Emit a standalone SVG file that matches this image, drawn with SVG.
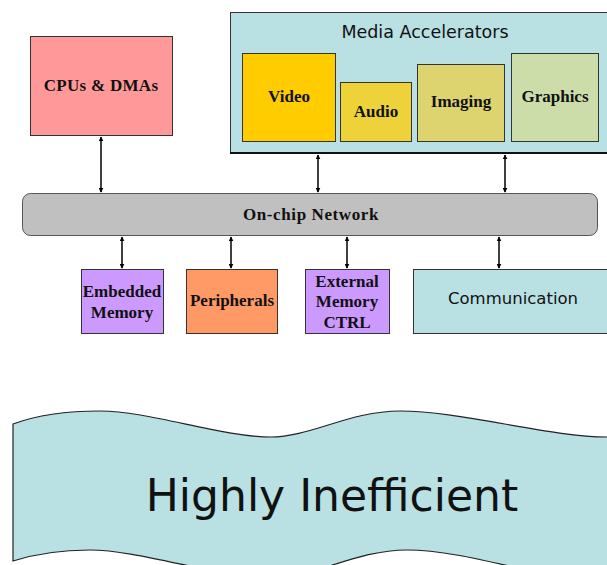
<svg xmlns="http://www.w3.org/2000/svg" width="607" height="565" viewBox="0 0 607 565">
  <style>
    .box { stroke: #333; stroke-width: 1; }
    .lbl { font-family: "Liberation Serif", "Times New Roman", serif; font-weight: bold; font-size: 17px; fill: #111; text-anchor: middle; }
    .sans { font-family: "DejaVu Sans", Verdana, sans-serif; fill: #111; text-anchor: middle; }
    .link { stroke: #000; stroke-width: 1.5; fill: none; marker-start: url(#head); marker-end: url(#head); }
  </style>
  <defs>
    <marker id="head" viewBox="0 0 8 8" refX="7" refY="4" markerWidth="5" markerHeight="5" orient="auto-start-reverse" markerUnits="userSpaceOnUse">
      <path d="M0,0 L8,4 L0,8 Z" fill="#000"/>
    </marker>
  </defs>
  <rect width="607" height="565" fill="#fff"/>

  <g id="cpus">
    <rect class="box" x="30.5" y="36.5" width="142" height="99" fill="#FF9999"/>
    <text class="lbl" x="101" y="91" letter-spacing="0.3">CPUs &amp; DMAs</text>
  </g>

  <g id="media">
    <rect class="box" x="230.5" y="12.5" width="390" height="140" fill="#B9E0E3"/>
    <line x1="230" y1="153" x2="607" y2="153" stroke="#111" stroke-width="2"/>
    <text class="sans" x="425" y="38" font-size="17.5">Media Accelerators</text>
  </g>
  <g id="video">
    <rect class="box" x="242.5" y="53.5" width="93" height="88" fill="#FFCC00"/>
    <text class="lbl" x="289" y="102">Video</text>
  </g>
  <g id="audio">
    <rect class="box" x="340.5" y="82.5" width="71" height="59" fill="#EDD23A"/>
    <text class="lbl" x="376" y="117">Audio</text>
  </g>
  <g id="imaging">
    <rect class="box" x="417.5" y="64.5" width="87" height="77" fill="#DDD470"/>
    <text class="lbl" x="461" y="107">Imaging</text>
  </g>
  <g id="graphics">
    <rect class="box" x="511.5" y="53.5" width="87" height="88" fill="#CCDDAA"/>
    <text class="lbl" x="555" y="102">Graphics</text>
  </g>

  <g id="network">
    <rect x="22.5" y="193.5" width="575" height="42" rx="8" ry="8" fill="#C0C0C0" stroke="#555" stroke-width="1"/>
    <text class="lbl" x="311" y="220" font-size="18" letter-spacing="0.6">On-chip Network</text>
  </g>

  <g id="embedded-memory">
    <rect class="box" x="81.5" y="269.5" width="82" height="64" fill="#CC99FF"/>
    <text class="lbl" x="122" y="297">Embedded</text>
    <text class="lbl" x="122" y="318">Memory</text>
  </g>
  <g id="peripherals">
    <rect class="box" x="186.5" y="269.5" width="91" height="64" fill="#FF9966"/>
    <text class="lbl" x="232" y="306">Peripherals</text>
  </g>
  <g id="external-memory">
    <rect class="box" x="305.5" y="269.5" width="84" height="64" fill="#CC99FF"/>
    <text class="lbl" x="347" y="287">External</text>
    <text class="lbl" x="347" y="307">Memory</text>
    <text class="lbl" x="347" y="328">CTRL</text>
  </g>
  <g id="communication">
    <rect class="box" x="413.5" y="269.5" width="210" height="64" fill="#B9E0E3"/>
    <text class="sans" x="513" y="304" font-size="16.5">Communication</text>
  </g>

  <g id="connectors">
    <line class="link" x1="101" y1="137" x2="101" y2="192"/>
    <line class="link" x1="318" y1="155" x2="318" y2="192"/>
    <line class="link" x1="505" y1="155" x2="505" y2="192"/>
    <line class="link" x1="122" y1="237" x2="122" y2="268"/>
    <line class="link" x1="231" y1="237" x2="231" y2="268"/>
    <line class="link" x1="347" y1="237" x2="347" y2="268"/>
    <line class="link" x1="499" y1="237" x2="499" y2="268"/>
  </g>

  <!-- wavy banner, runs off the right and bottom edges -->
  <g id="banner">
    <path d="M13,424 C40,414 70,411 100,411 C150,411 220,437 271,437 C310,437 350,411 400,411 C460,411 550,437 607,437 L640,437 L640,582 L607,582 C550,582 470,550 407,550 C355,550 315,578 271,578 C220,578 140,550 90,550 C60,550 35,554 13,561 Z" fill="#B9E0E3" stroke="#222" stroke-width="1.2"/>
    <text class="sans" x="332" y="511" font-size="44">Highly Inefficient</text>
  </g>
</svg>
